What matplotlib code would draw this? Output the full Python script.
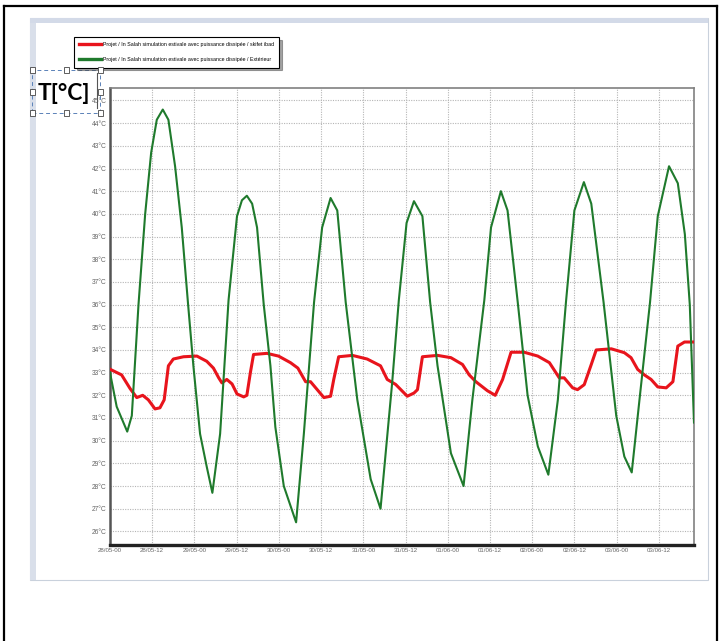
import matplotlib.pyplot as plt
from matplotlib.patches import Rectangle
from matplotlib.lines import Line2D

# hours since 28/05 00:00
green_h = [0, 1.9, 4.9, 6.2, 8.1, 10.0, 11.7, 13.3, 15.0, 16.6, 18.5, 20.4, 22.2, 23.7,
           25.6, 27.5, 29.1, 31.3, 33.7, 36.1, 37.5, 38.9, 40.4, 41.8, 43.7, 45.6, 47.0,
           49.4, 52.9, 55.1, 58.0, 60.3, 62.7, 64.6, 67.0, 70.3, 74.1, 76.9, 80.2, 82.1,
           84.3, 86.4, 88.8, 91.0, 93.1, 96.9, 100.5, 103.0, 106.4, 108.3, 111.1, 113.0,
           115.9, 118.7, 121.6, 124.6, 127.3, 129.6, 132.0, 134.7, 136.8, 140.3, 143.9,
           146.2, 148.3, 150.5, 153.5, 155.7, 158.9, 161.4, 163.4, 164.8, 166.0]
green_t = [33.0, 31.5, 30.4, 31.1, 36.0, 40.0, 42.7, 44.15, 44.6, 44.15, 42.1, 39.4, 36.0,
           33.3, 30.3, 28.85, 27.7, 30.3, 36.2, 39.9, 40.6, 40.8, 40.45, 39.4, 36.0, 33.3,
           30.6, 28.0, 26.4, 30.3, 36.1, 39.4, 40.7, 40.15, 36.1, 31.8, 28.3, 27.0, 32.55,
           36.2, 39.6, 40.56, 39.9, 36.1, 33.3, 29.45, 28.0, 31.8, 36.2, 39.4, 41.0, 40.15,
           36.1, 32.0, 29.75, 28.5, 31.8, 36.1, 40.15, 41.4, 40.45, 36.1, 31.1, 29.3, 28.6,
           31.8, 36.1, 39.9, 42.1, 41.35, 39.1, 36.0, 30.8]

red_h = [0, 3.3, 5.7, 7.6, 9.3, 10.9, 12.8, 14.2, 15.4, 16.6, 18.0, 20.9, 24.7, 27.5, 29.4,
         30.9, 31.8, 33.2, 34.7, 36.1, 38.0, 38.9, 39.9, 40.8, 44.6, 47.9, 51.3, 53.4, 55.6,
         57.0, 58.9, 60.8, 62.7, 63.6, 65.0, 68.9, 73.1, 76.9, 78.8, 81.2, 84.5, 86.4, 87.4,
         88.8, 93.1, 96.9, 100.2, 102.1, 104.0, 107.3, 109.5, 111.6, 114.0, 117.7, 121.6,
         124.9, 127.7, 129.1, 131.5, 132.9, 134.8, 136.8, 138.2, 142.5, 146.2, 148.1, 150.0,
         151.9, 153.8, 155.7, 158.1, 160.0, 161.4, 163.3, 166.0]
red_t = [33.15, 32.9, 32.3, 31.9, 32.0, 31.8, 31.4, 31.45, 31.8, 33.3, 33.6, 33.7, 33.73,
         33.5, 33.2, 32.77, 32.55, 32.7, 32.5, 32.06, 31.93, 32.0, 33.0, 33.8, 33.85, 33.73,
         33.44, 33.2, 32.6, 32.6, 32.25, 31.9, 31.96, 32.7, 33.7, 33.76, 33.6, 33.3, 32.7,
         32.48, 31.96, 32.1, 32.25, 33.7, 33.76, 33.66, 33.36, 32.9, 32.6, 32.2, 32.0, 32.7,
         33.9, 33.9, 33.73, 33.44, 32.77, 32.77, 32.33, 32.25, 32.47, 33.36, 34.0, 34.05,
         33.88, 33.66, 33.14, 32.9, 32.7, 32.37, 32.33, 32.6, 34.17, 34.35, 34.35]

x_ticks = list(range(0, 157, 12))
x_labels = ["28/05-00", "28/05-12", "29/05-00", "29/05-12", "30/05-00", "30/05-12",
            "31/05-00", "31/05-12", "01/06-00", "01/06-12", "02/06-00", "02/06-12",
            "03/06-00", "03/06-12"]
y_ticks = list(range(26, 46))

label_red = "Projet / In Salah simulation estivale avec puissance dissipée / skifet ibad"
label_green = "Projet / In Salah simulation estivale avec puissance dissipée / Extérieur"

W, H = 720, 641


def fx(x):
    return x / W


def fy(y):
    return 1 - y / H


fig = plt.figure(figsize=(7.2, 6.41), dpi=100)

# page frame and inner panel
for xs, ys in [([4, 4], [6, 641]), ([4, 717], [6, 6]), ([717, 717], [6, 641])]:
    fig.add_artist(Line2D([fx(v) for v in xs], [fy(v) for v in ys], color="black", lw=1.6, zorder=-3))
fig.add_artist(Rectangle((fx(30), fy(580)), fx(708) - fx(30), fy(18) - fy(580),
                         transform=fig.transFigure, facecolor="white", edgecolor="#c9d1dc",
                         lw=0.8, zorder=-2))
fig.add_artist(Rectangle((fx(30), fy(580)), fx(36) - fx(30), fy(18) - fy(580),
                         transform=fig.transFigure, facecolor="#d9dfea", lw=0, zorder=-1))
fig.add_artist(Rectangle((fx(30), fy(23)), fx(708) - fx(30), fy(18) - fy(23),
                         transform=fig.transFigure, facecolor="#d3dae8", lw=0, zorder=-1))

ax = fig.add_axes([fx(110), fy(545), fx(694) - fx(110), fy(88) - fy(545)])
ax.plot(red_h, red_t, color="#e8141c", lw=2.2, label=label_red, zorder=3)
ax.plot(green_h, green_t, color="#1f7a2c", lw=1.5, label=label_green, zorder=4)

ax.set_xlim(0, 166)
ax.set_ylim(25.4, 45.55)
ax.set_xticks(x_ticks)
ax.set_xticklabels(x_labels, fontsize=4.4, color="#666666", family="Liberation Sans")
ax.set_yticks(y_ticks)
ax.set_yticklabels([f"{t}°C" for t in y_ticks], fontsize=4.8, color="#666666",
                   family="Liberation Sans")
ax.tick_params(length=0, pad=2.5)
ax.grid(True, color="#b5b5b5", linestyle=(0, (1, 1.2)), lw=0.8)

ax.spines["left"].set_color("#555555")
ax.spines["left"].set_linewidth(1.8)
ax.spines["bottom"].set_color("#222222")
ax.spines["bottom"].set_linewidth(2.4)
for s in ["top", "right"]:
    ax.spines[s].set_color("#808080")
    ax.spines[s].set_linewidth(1.2)

leg = fig.legend(loc="upper left", bbox_to_anchor=(fx(74), fy(37)),
                 prop={"family": "Liberation Sans", "size": 3.8},
                 frameon=True, fancybox=False, shadow=True, edgecolor="black",
                 handlelength=4.2, handletextpad=0.3, labelspacing=1.9,
                 borderpad=1.0, borderaxespad=0)
leg.get_frame().set_linewidth(0.8)
for line in leg.get_lines():
    line.set_linewidth(2.4)

# selected "T[°C]" text box
fig.text(fx(64), fy(94), "T[°C]", fontsize=16.5, fontweight="bold",
         family=["Lato", "DejaVu Sans"], ha="center", va="center", zorder=5)
fig.add_artist(Rectangle((fx(32), fy(113)), fx(100) - fx(32), fy(70) - fy(113),
                         transform=fig.transFigure, fill=False, edgecolor="#5b82b8",
                         lw=0.7, linestyle=(0, (4, 3)), zorder=5))
fig.add_artist(Line2D([fx(97), fx(97)], [fy(73), fy(108)], color="#555555", lw=0.8, zorder=5))
for hx in [32, 66, 100]:
    for hy in [70, 92, 113]:
        if hx == 66 and hy == 92:
            continue
        fig.add_artist(Rectangle((fx(hx - 2.5), fy(hy + 2.5)), fx(5), 5 / H,
                                 transform=fig.transFigure, facecolor="white",
                                 edgecolor="#444444", lw=0.6, zorder=6))

fig.savefig("out.png", dpi=100)
